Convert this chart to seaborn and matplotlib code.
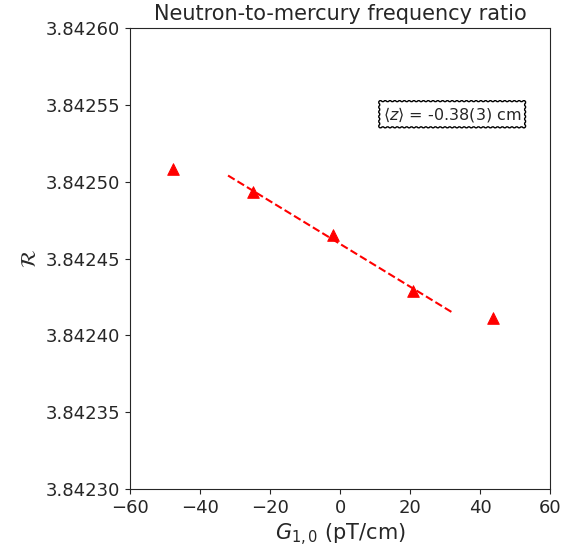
import numpy as np
import pandas as pd
import seaborn as sns
import matplotlib.pyplot as plt
from matplotlib.ticker import FormatStrFormatter

# Measured points
gradient = [-47.7, -24.9, -2.0, 20.9, 43.7]
ratio = [3.842508, 3.842493, 3.842465, 3.842429, 3.842411]

# Linear fit (endpoints)
fit_x = [-32.0, 32.0]
fit_y = [3.842504, 3.842415]

df = pd.DataFrame({"G": gradient, "R": ratio})
fit = pd.DataFrame({"G": fit_x, "R": fit_y})

sns.set_style("ticks")
plt.rcParams['font.family'] = ['DejaVu Sans']

fig = plt.figure(figsize=(5.78, 5.5), dpi=100)
ax = fig.add_axes([0.225, 0.111, 0.7266, 0.838])

sns.lineplot(data=fit, x="G", y="R", ax=ax, color="red", linestyle="--", linewidth=1.5)
sns.scatterplot(data=df, x="G", y="R", ax=ax, marker="^", s=70, color="red",
                edgecolor="red", zorder=3)

ax.set_xlim(-60, 60)
ax.set_ylim(3.84230, 3.84260)
ax.set_xticks(np.arange(-60, 61, 20))
ax.set_yticks(np.arange(3.84230, 3.842601, 0.00005))
ax.yaxis.set_major_formatter(FormatStrFormatter('%.5f'))
ax.tick_params(labelsize=13)

ax.set_title("Neutron-to-mercury frequency ratio", fontsize=15, color="#262626")
ax.set_xlabel(r"$G_{1,0}$ (pT/cm)", fontsize=15)
ax.set_ylabel(r"$\mathcal{R}$", fontsize=15)

ax.text(0.767, 0.813, r"$\langle z\rangle$ = -0.38(3) cm", transform=ax.transAxes,
        ha="center", va="center", fontsize=11.5,
        bbox=dict(boxstyle="roundtooth,pad=0.3", facecolor="white", edgecolor="black"))

fig.savefig("out.png", dpi=100)
